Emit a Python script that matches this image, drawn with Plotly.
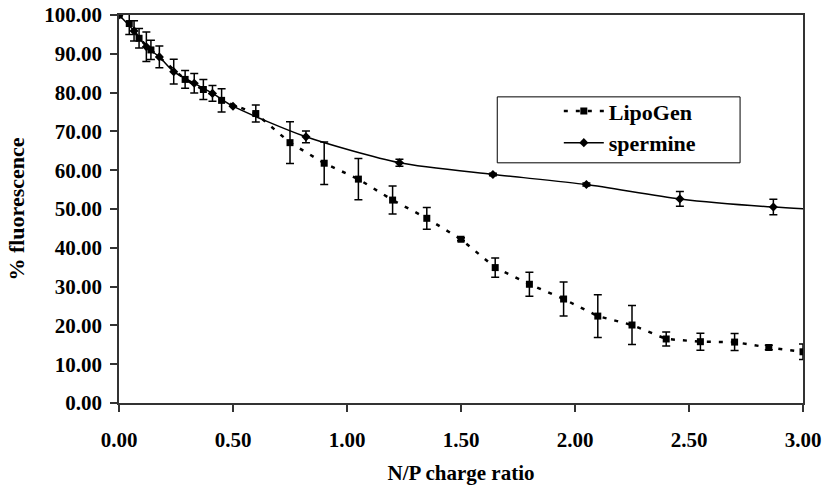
import plotly.graph_objects as go

# N/P charge ratio, % fluorescence and error for each formulation
lipogen_x = [0, 0.045, 0.088, 0.14, 0.29, 0.37, 0.45, 0.60, 0.75, 0.90, 1.05, 1.20,
             1.35, 1.50, 1.65, 1.80, 1.95, 2.10, 2.25, 2.40, 2.55, 2.70, 2.85, 3.00]
lipogen_y = [100.0, 97.8, 94.0, 91.0, 83.4, 80.8, 78.0, 74.6, 67.1, 61.8, 57.7, 52.3,
             47.6, 42.2, 34.9, 30.6, 26.8, 22.4, 20.1, 16.5, 15.8, 15.7, 14.3, 13.2]
lipogen_err = [0.0, 2.8, 2.5, 2.5, 2.3, 2.6, 3.0, 2.2, 5.4, 5.5, 5.3, 3.6,
               2.8, 0.4, 2.5, 3.1, 4.4, 5.5, 5.0, 1.8, 2.2, 2.2, 0.6, 2.0]

spermine_x = [0, 0.066, 0.12, 0.177, 0.24, 0.33, 0.41, 0.50, 0.82, 1.23, 1.64, 2.05,
              2.46, 2.87, 3.28]
spermine_y = [100.0, 95.9, 91.8, 89.2, 85.4, 82.4, 79.8, 76.5, 68.6, 61.9, 58.9, 56.3,
              52.6, 50.5, 49.3]
spermine_err = [0.0, 2.6, 3.8, 2.8, 3.2, 2.5, 2.0, 0.0, 1.5, 0.9, 0.3, 0.4,
                1.9, 2.0, 0.0]

x_ticks = [0, 0.5, 1.0, 1.5, 2.0, 2.5, 3.0]
y_ticks = [0, 10, 20, 30, 40, 50, 60, 70, 80, 90, 100]

FONT = "Liberation Serif, Times New Roman, serif"

fig = go.Figure()

fig.add_trace(go.Scatter(
    x=lipogen_x, y=lipogen_y, name="LipoGen", mode="lines+markers",
    line=dict(color="black", width=2.5, dash="4px,8px"),
    marker=dict(symbol="square", size=7, color="black"),
    error_y=dict(type="data", array=lipogen_err, visible=True,
                 color="black", thickness=1.5, width=4),
))

fig.add_trace(go.Scatter(
    x=spermine_x, y=spermine_y, name="spermine", mode="lines+markers",
    line=dict(color="black", width=1.5, shape="spline", smoothing=0.7),
    marker=dict(symbol="diamond", size=7, color="black"),
    error_y=dict(type="data", array=spermine_err, visible=True,
                 color="black", thickness=1.5, width=4),
))

axis_common = dict(
    showline=True, linecolor="#333333", linewidth=1.5, mirror=True,
    showgrid=False, zeroline=False, automargin=False,
    ticks="outside", ticklen=7, tickwidth=1.5, tickcolor="#333333",
    tickformat=".2f",
    tickfont=dict(family=FONT, size=21, color="black", weight="bold"),
)

fig.update_xaxes(
    range=[0, 3], tickvals=x_ticks, ticklabelstandoff=10,
    title=dict(text="N/P charge ratio", standoff=14,
               font=dict(family=FONT, size=21, color="black", weight="bold")),
    **axis_common,
)
fig.update_yaxes(
    range=[0, 100], tickvals=y_ticks, ticklabelstandoff=4,
    title=dict(text="% fluorescence", standoff=14,
               font=dict(family=FONT, size=22, color="black", weight="bold")),
    **axis_common,
)

# Legend frame
fig.add_shape(type="rect", xref="paper", yref="paper",
              x0=0.553, x1=0.908, y0=0.619, y1=0.789,
              line=dict(color="black", width=1), fillcolor="white", layer="below")

fig.update_layout(
    width=823, height=486,
    margin=dict(l=119, r=20, t=15, b=83),
    paper_bgcolor="white", plot_bgcolor="white",
    showlegend=True,
    legend=dict(x=0.643, y=0.806, xanchor="left", yanchor="top",
                bgcolor="rgba(0,0,0,0)", borderwidth=0,
                font=dict(family=FONT, size=22, color="black", weight="bold"),
                itemwidth=40, tracegroupgap=0),
)

fig.write_html("out.html")
